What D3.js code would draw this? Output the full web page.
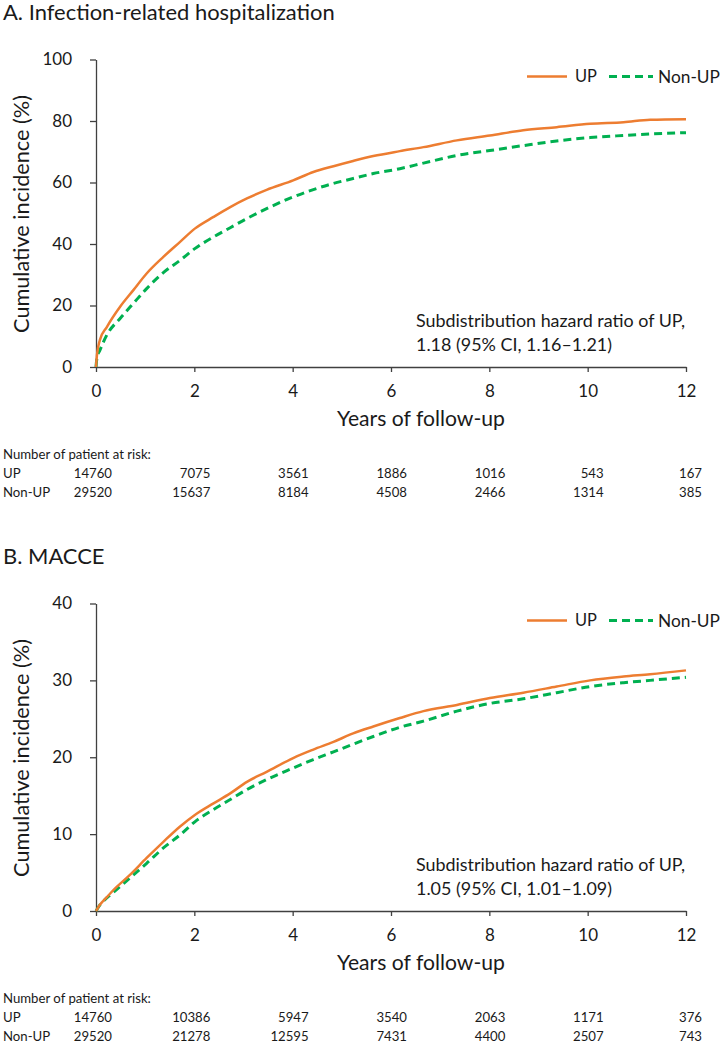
<!DOCTYPE html>
<html><head><meta charset="utf-8">
<script src="https://cdn.jsdelivr.net/npm/d3@7"></script>
<style>
body{margin:0;background:#fff}
svg{display:block}
text{font-family:Lato,"Open Sans",sans-serif;fill:#1a1a1a}
</style>
</head><body>
<svg id="c" width="721" height="1044"></svg>
<script>
// ---------- data ----------
const titles = ["A. Infection-related hospitalization", "B. MACCE"];
const seriesNames = ["UP", "Non-UP"];
const xTicks = [0, 2, 4, 6, 8, 10, 12];
const yTicksA = [0, 20, 40, 60, 80, 100];
const yTicksB = [0, 10, 20, 30, 40];
const yMaxA = 100;
const yMaxB = 40;

const timesA  = [0, 0.02, 0.08, 0.22, 0.49, 0.76, 1.03, 1.37, 1.71, 2.01, 2.39, 2.73, 3.07, 3.47, 4.01, 4.42, 4.83, 5.23, 5.64, 6.18, 6.66, 7.34, 8.01, 8.69, 9.37, 10.05, 10.73, 11.27, 12];
const upA     = [0, 4.0, 8.8, 13.0, 19.6, 25.0, 30.4, 35.8, 40.7, 45.0, 48.8, 52.0, 54.8, 57.6, 60.7, 63.4, 65.3, 67.0, 68.6, 70.2, 71.5, 73.7, 75.3, 77.0, 78.0, 79.1, 79.6, 80.4, 80.6];
const nonUpA  = [0, 3.0, 5.5, 10.4, 15.8, 20.7, 25.5, 30.7, 34.7, 38.5, 42.3, 45.3, 48.3, 51.5, 55.3, 57.7, 59.7, 61.3, 62.9, 64.5, 66.3, 68.8, 70.4, 72.0, 73.5, 74.6, 75.3, 75.8, 76.2];

const timesB  = [0, 0.08, 0.22, 0.35, 0.69, 1.03, 1.37, 1.71, 2.01, 2.39, 2.73, 3.07, 3.47, 4.01, 4.42, 4.83, 5.23, 5.64, 6.18, 6.66, 7.34, 8.01, 8.69, 9.37, 10.05, 10.73, 11.27, 12];
const upB     = [0, 0.8, 1.8, 2.7, 4.7, 6.9, 9.0, 11.0, 12.5, 14.0, 15.3, 16.8, 18.1, 19.9, 21.0, 22.0, 23.1, 24.0, 25.1, 26.0, 26.8, 27.7, 28.4, 29.2, 30.0, 30.5, 30.8, 31.3];
const nonUpB  = [0, 0.8, 1.7, 2.4, 4.3, 6.2, 8.2, 9.9, 11.6, 13.2, 14.5, 15.8, 17.1, 18.6, 19.7, 20.7, 21.7, 22.7, 23.9, 24.7, 26.0, 27.0, 27.6, 28.4, 29.2, 29.7, 30.0, 30.4];

const riskYears   = [0, 2, 4, 6, 8, 10, 12];
const riskUpA     = [14760, 7075, 3561, 1886, 1016, 543, 167];
const riskNonUpA  = [29520, 15637, 8184, 4508, 2466, 1314, 385];
const riskUpB     = [14760, 10386, 5947, 3540, 2063, 1171, 376];
const riskNonUpB  = [29520, 21278, 12595, 7431, 4400, 2507, 743];

const hrTextA = ["Subdistribution hazard ratio of UP,", "1.18 (95% CI, 1.16\u20131.21)"];
const hrTextB = ["Subdistribution hazard ratio of UP,", "1.05 (95% CI, 1.01\u20131.09)"];

// ---------- drawing ----------
const svg = d3.select("#c");
const COL_UP = "#ED7D31", COL_NON = "#00B050", AXIS = "#404040";

function fit(sel, w) {
  const len = sel.node().getComputedTextLength();
  const fs = parseFloat(sel.attr("font-size"));
  sel.attr("font-size", (fs * w / len).toFixed(2));
  return sel;
}

const panels = [
  {title: titles[0], yMax: yMaxA, yTicks: yTicksA, t: timesA, up: upA, non: nonUpA, rUp: riskUpA, rNon: riskNonUpA, hr: hrTextA, oy: 0},
  {title: titles[1], yMax: yMaxB, yTicks: yTicksB, t: timesB, up: upB, non: nonUpB, rUp: riskUpB, rNon: riskNonUpB, hr: hrTextB, oy: 544}
];

let titleSize = null;
panels.forEach(p => {
  const g = svg.append("g").attr("transform", `translate(0,${p.oy})`);
  const left = 96, right = 686, top = 59.5, bottom = 367;
  const x = d3.scaleLinear().domain([0, 12]).range([left, right]);
  const y = d3.scaleLinear().domain([0, p.yMax]).range([bottom, top]);

  // title (size fitted on panel A, reused for B)
  const tt = g.append("text").attr("x", 3).attr("y", 20).attr("font-size", titleSize || 19).text(p.title);
  if (!titleSize) { fit(tt, 332); titleSize = tt.attr("font-size"); }

  // axes
  const ya = g.append("g").attr("transform", `translate(${left},0)`)
    .call(d3.axisLeft(y).tickValues(p.yTicks).tickSize(6).tickSizeOuter(0).tickPadding(18));
  const xa = g.append("g").attr("transform", `translate(0,${bottom})`)
    .call(d3.axisBottom(x).tickValues(xTicks).tickSize(5).tickSizeOuter(0).tickPadding(13));
  [ya, xa].forEach(a => {
    a.select(".domain").attr("stroke", AXIS).attr("stroke-width", 1.3);
    a.selectAll(".tick line").attr("stroke", AXIS).attr("stroke-width", 1.3);
    a.selectAll("text").attr("font-family", "Lato, 'Open Sans', sans-serif").attr("font-size", 17).attr("fill", "#1a1a1a");
  });

  // axis titles
  fit(g.append("text").attr("transform", `translate(29,214) rotate(-90)`).attr("text-anchor", "middle")
    .attr("font-size", 19).text("Cumulative incidence (%)"), 238);
  fit(g.append("text").attr("x", 421).attr("y", 426).attr("text-anchor", "middle")
    .attr("font-size", 19).text("Years of follow-up"), 168);

  // curves
  const line = d3.line().x(d => x(d[0])).y(d => y(d[1])).curve(d3.curveMonotoneX);
  g.append("path").datum(p.t.map((t, i) => [t, p.non[i]])).attr("d", line)
    .attr("fill", "none").attr("stroke", COL_NON).attr("stroke-width", 3).attr("stroke-dasharray", "8,5");
  g.append("path").datum(p.t.map((t, i) => [t, p.up[i]])).attr("d", line)
    .attr("fill", "none").attr("stroke", COL_UP).attr("stroke-width", 2.5);

  // legend
  const ly = top + 17;
  g.append("line").attr("x1", 527).attr("x2", 567).attr("y1", ly).attr("y2", ly).attr("stroke", COL_UP).attr("stroke-width", 2.5);
  fit(g.append("text").attr("x", 575).attr("y", ly).attr("dy", "0.36em").attr("font-size", 17).text(seriesNames[0]), 22);
  g.append("line").attr("x1", 609).attr("x2", 653).attr("y1", ly).attr("y2", ly).attr("stroke", COL_NON).attr("stroke-width", 3).attr("stroke-dasharray", "8,5");
  fit(g.append("text").attr("x", 658).attr("y", ly).attr("dy", "0.36em").attr("font-size", 17).text(seriesNames[1]), 62);

  // annotation
  const a1 = fit(g.append("text").attr("x", 416).attr("y", 327).attr("font-size", 16).text(p.hr[0]), 269);
  g.append("text").attr("x", 416).attr("y", 351).attr("font-size", a1.attr("font-size")).text(p.hr[1]);

  // risk table
  const rt = fit(g.append("text").attr("x", 3).attr("y", 459).attr("font-size", 12.5).text("Number of patient at risk:"), 148);
  const fs = rt.attr("font-size");
  [[seriesNames[0], p.rUp, 478], [seriesNames[1], p.rNon, 497]].forEach(([name, vals, yy]) => {
    g.append("text").attr("x", 3).attr("y", yy).attr("font-size", fs).text(name);
    g.selectAll(null).data(vals).enter().append("text")
      .attr("x", (d, i) => x(riskYears[i]) + 16).attr("y", yy)
      .attr("text-anchor", "end").attr("font-size", fs).text(d => d);
  });
});
</script>
</body></html>
